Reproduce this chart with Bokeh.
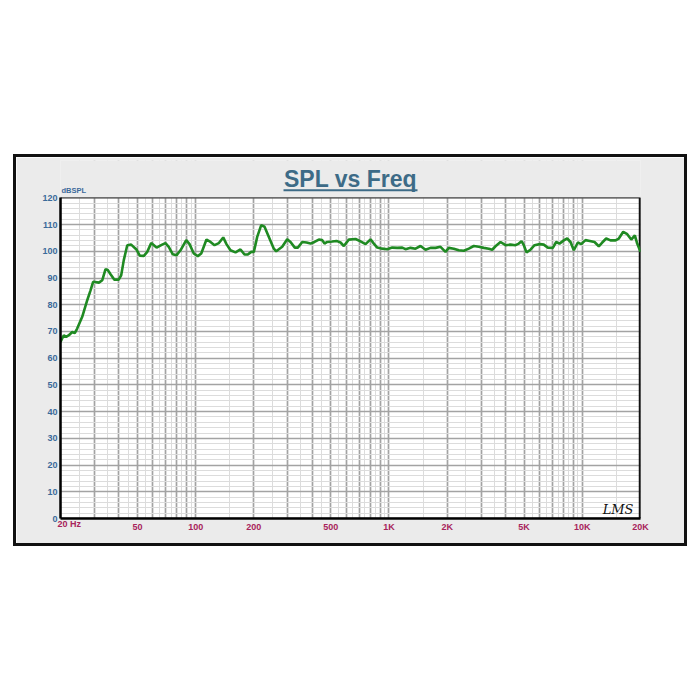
from bokeh.plotting import figure
from bokeh.models import FixedTicker, Label, LinearAxis, LinearScale, Range1d, Spacer
from bokeh.layouts import row, column
from bokeh.core.properties import value
from bokeh.embed import file_html
from bokeh.resources import INLINE

# ---------------- data ----------------
freq_hz = [20, 20.8, 21.4, 22.1, 23.0, 23.7, 24.4, 25.9, 27.5, 28.6, 29.5, 31.6, 32.9,
           34.2, 35.1, 36.3, 38.0, 40.0, 41.2, 42.5, 44.3, 46.4, 49.4, 51.4, 54.0, 56.2,
           58.9, 62.8, 67.1, 69.8, 72.6, 76.2, 79.6, 83.5, 89.4, 93.0, 97.8, 102.6, 106.9,
           113.8, 119.4, 125.2, 131.9, 138.9, 144.4, 151.4, 160.8, 170.6, 179.0, 186.2,
           193.8, 200, 208.2, 218.4, 227.2, 239.2, 253.8, 261.1, 280.4, 297.6, 309.6,
           325.8, 337.7, 356.0, 374.7, 392.9, 412.0, 433.7, 451.6, 464.1, 479.3, 508.7,
           535.4, 561.6, 584.1, 619.9, 671.6, 712.8, 756.5, 802.9, 835.1, 869.5, 922.8,
           979.4, 1039.5, 1103.3, 1171.0, 1217.9, 1292.5, 1371.9, 1455.8, 1545.2, 1639.7,
           1740.4, 1847.2, 1960.5, 2039.3, 2164.6, 2297.5, 2438.3, 2588.0, 2746.9, 2915.2,
           3094.2, 3283.7, 3419.5, 3557, 3775.6, 4006.9, 4252.5, 4513.9, 4695.2, 4848.1,
           4982.8, 5146.1, 5396.5, 5659.9, 6030.5, 6319, 6630.2, 7036, 7327, 7620, 8020,
           8354, 8690, 9040, 9482, 9875, 10390, 10935, 11563, 12170, 12675, 13290, 13990,
           14850, 15450, 16280, 17080, 17910, 18700, 19230, 20000]
spl_db = [66.1, 68.6, 68.0, 68.6, 69.8, 69.4, 71.1, 75.5, 81.7, 85.4, 88.6, 88.3, 89.2,
          93.3, 93.0, 91.4, 89.4, 89.4, 91.0, 96.7, 102.3, 102.5, 100.7, 98.4, 98.3, 99.8,
          103.1, 101.4, 102.5, 103.1, 101.7, 98.9, 98.5, 100.4, 104.2, 102.7, 99.2, 98.2,
          99.2, 104.4, 103.5, 102.3, 103.1, 105.2, 102.7, 100.4, 99.6, 100.7, 98.8, 98.8,
          99.8, 99.8, 105.4, 109.8, 109.2, 105.4, 101.0, 100.0, 101.7, 104.5, 103.5,
          101.4, 101.4, 103.5, 103.3, 102.9, 103.5, 104.4, 104.2, 102.9, 103.5, 103.7,
          103.9, 103.3, 102.0, 104.4, 104.6, 103.7, 102.7, 104.5, 102.9, 101.4, 101.0,
          100.8, 101.4, 101.3, 101.4, 100.8, 101.3, 101.0, 102.0, 100.6, 101.3,
          101.3, 101.7, 99.8, 101.3, 101.0, 100.4, 100.2, 101.0, 102.0, 101.7,
          101.3, 101.0, 100.6, 101.9, 103.5, 102.3, 102.5, 102.3, 102.9, 103.8,
          102.3, 99.6, 100.6, 102.3, 102.7, 102.5, 101.4, 101.3, 103.5, 102.9, 104.1,
          104.8, 103.5, 100.4, 103.3, 102.7, 104.2, 103.9, 103.5, 101.9, 103.3, 104.8, 104.1,
          104.1, 104.8, 107.3, 106.4, 104.4, 106.0, 102.9, 99.8]

y_ticks = [0, 10, 20, 30, 40, 50, 60, 70, 80, 90, 100, 110, 120]
y_minor = [2, 4, 6, 8, 12, 14, 16, 18, 22, 24, 26, 28, 32, 34, 36, 38, 42, 44, 46, 48,
           52, 54, 56, 58, 62, 64, 66, 68, 72, 74, 76, 78, 82, 84, 86, 88, 92, 94, 96, 98,
           102, 104, 106, 108, 112, 114, 116, 118]
x_label_ticks = [50, 100, 200, 500, 1000, 2000, 5000, 10000, 20000]
x_label_text = ["50", "100", "200", "500", "1K", "2K", "5K", "10K", "20K"]
x_first_text = "20  Hz"
x_major_grid = [30, 40, 50, 60, 70, 80, 90, 100, 200, 300, 400, 500, 600, 700, 800, 900,
                1000, 2000, 3000, 4000, 5000, 6000, 7000, 8000, 9000, 10000]
x_minor_grid = [25, 35, 45, 55, 65, 75, 85, 95, 150, 250, 350, 450, 550, 650, 750, 850,
                950, 1500, 2500, 3500, 4500, 5500, 6500, 7500, 8500, 9500, 15000]
title_text = "SPL vs Freq"
y_unit_text = "dBSPL"
logo_text = "LMS"

F_MIN, F_MAX = 20, 20000
DB_MIN, DB_MAX = 0, 120
DB_TOP = 134          # frame continues above the chart to hold the title strip

X_COLOR = "#a8245c"
Y_COLOR = "#3b6a9a"
T_COLOR = "#3d6b87"
PANEL = "#ebebeb"
BORDER = "#111111"
FONT = "Liberation Sans"

p = figure(width=668, height=386, x_axis_type="log", x_range=(F_MIN, F_MAX),
           y_range=(DB_MIN, DB_TOP), output_backend="svg", toolbar_location=None,
           min_border_left=44, min_border_right=44, min_border_top=3, min_border_bottom=25)
p.border_fill_color = PANEL
p.background_fill_color = PANEL
p.outline_line_color = None

# white chart area (below the grid)
p.quad(left=[F_MIN], right=[F_MAX], bottom=[DB_MIN], top=[DB_MAX], fill_color="white",
       line_color=None, level="image")

# grids
p.xgrid.ticker = FixedTicker(ticks=x_major_grid, minor_ticks=x_minor_grid)
p.xgrid.grid_line_color = "#a3a3a3"
p.xgrid.grid_line_width = 1.7
p.xgrid.minor_grid_line_color = "#dcdcdc"
p.xgrid.minor_grid_line_width = 1
p.ygrid.ticker = FixedTicker(ticks=y_ticks, minor_ticks=y_minor)
p.ygrid.grid_line_color = "#a3a3a3"
p.ygrid.grid_line_width = 1.7
p.ygrid.minor_grid_line_color = "#dcdcdc"
p.ygrid.minor_grid_line_width = 1

# title strip covers the grid above the chart
p.quad(left=[F_MIN], right=[F_MAX], bottom=[DB_MAX], top=[DB_TOP], fill_color=PANEL,
       line_color=None)
# chart border (top / right)
p.quad(left=[F_MIN], right=[F_MAX], bottom=[DB_MIN], top=[DB_MAX], fill_alpha=0,
       line_color="#444444", line_width=1.3)
p.segment(x0=[F_MAX], y0=[DB_MIN], x1=[F_MAX], y1=[DB_MAX], line_color="#111111",
          line_width=3.5)

# axes
p.xaxis.ticker = FixedTicker(ticks=x_label_ticks)
p.xaxis.major_label_overrides = dict(zip(x_label_ticks, x_label_text))
p.yaxis.ticker = FixedTicker(ticks=y_ticks)
p.yaxis.bounds = (DB_MIN, DB_MAX)
for ax in (p.xaxis[0], p.yaxis[0]):
    ax.axis_line_color = "black"
    ax.axis_line_width = 2.5
    ax.major_tick_line_color = None
    ax.minor_tick_line_color = None
    ax.major_label_text_font = FONT
    ax.major_label_text_font_style = "bold"
    ax.major_label_text_font_size = "9px"
p.xaxis.major_label_text_color = X_COLOR
p.yaxis.major_label_text_color = Y_COLOR
p.xaxis.major_label_standoff = -3
p.yaxis.major_label_standoff = -3

# "20  Hz" label sits left-aligned at the start of the axis: a pixel-scale helper axis
p.extra_x_ranges = {"px": Range1d(0, 580)}
p.extra_x_scales = {"px": LinearScale()}
ax20 = LinearAxis(x_range_name="px", ticker=FixedTicker(ticks=[10]),
                  major_label_overrides={10: x_first_text},
                  axis_line_color=None, major_tick_line_color=None, minor_tick_line_color=None,
                  major_label_text_font=FONT,
                  major_label_text_font_style="bold", major_label_text_font_size="9px",
                  major_label_text_color=X_COLOR, major_label_standoff=-22)
p.add_layout(ax20, "below")

# response curve
p.line(freq_hz, spl_db, line_color="#1f8a22", line_width=2.6)

# title, underline, unit label
p.text(x=[632.46], y=[127.0], text=[title_text], text_align="center",
       text_baseline="alphabetic", text_font=value(FONT), text_font_style="bold",
       text_font_size="23px", text_color=T_COLOR)
p.segment(x0=[284.8], y0=[122.9], x1=[1404.8], y1=[122.9], line_color=T_COLOR, line_width=2)
p.text(x=[F_MIN], y=[122.6], x_offset=1, text=[y_unit_text], text_align="left",
       text_baseline="alphabetic", text_font=value(FONT), text_font_style="bold",
       text_font_size="7.5px", text_color=Y_COLOR)

p.add_layout(Label(x=F_MAX, y=DB_MIN, x_offset=-7, y_offset=9, text=logo_text,
                   text_align="right", text_baseline="alphabetic", text_font="DejaVu Serif",
                   text_font_style="italic", text_font_size="13px", text_color="#111111"))

# ---------------- panel with black border ----------------
def bar(w, h):
    return Spacer(width=w, height=h, styles={"background-color": BORDER})

boxed = row(bar(3, 392),
            column(bar(668, 3), p, bar(668, 3), spacing=0),
            bar(3, 392), spacing=0)
page = column(Spacer(width=10, height=154), row(Spacer(width=13, height=10), boxed, spacing=0),
              spacing=0)

open("out.html", "w").write(file_html(page, INLINE))
